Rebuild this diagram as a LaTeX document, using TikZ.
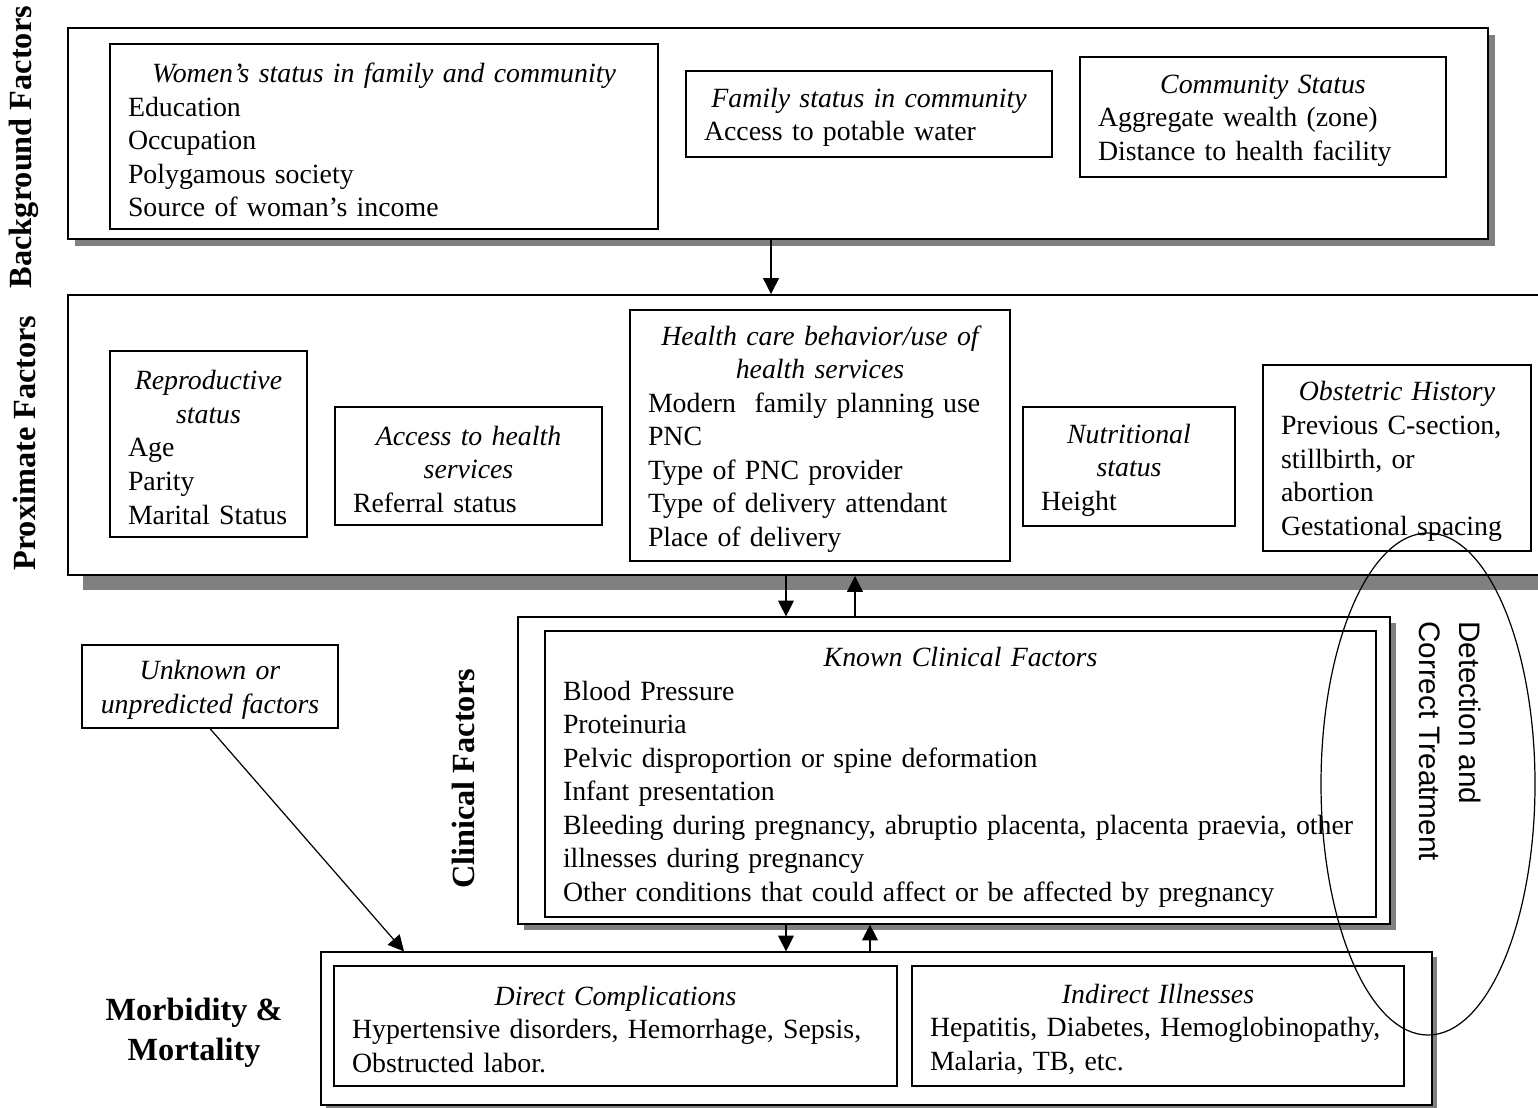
\documentclass[tikz,border=0pt]{standalone}
\usepackage{fontspec}
\setmainfont{Liberation Serif}
\newfontfamily\noteface{Liberation Sans}
\usetikzlibrary{arrows.meta,shadows}
\newcommand{\pxu}{0.4115pt}
\newcommand{\ttl}[1]{\centerline{\itshape #1}}
\newcommand{\itm}[1]{\hbox{#1}}
\newcommand{\boxlines}[1]{\vbox{\vskip 2.8pt #1}}

\begin{document}
\begin{tikzpicture}[x=\pxu, y=-\pxu, font=\fontsize{11.45}{13.8}\selectfont]
    \useasboundingbox (0,0) rectangle (1538,1107);
    \clip (0,0) rectangle (1538,1107);

    \tikzset{FrameStyle/.style 2 args={draw, fill=white, minimum width=#1*\pxu, minimum height=#2*\pxu, inner sep=0pt}}
    \tikzset{ShadowStyle/.style={drop shadow={shadow xshift=#1, shadow yshift=-#1, fill=gray, opacity=1}}}
    \node[FrameStyle={1420}{211}, line width=0.8pt, ShadowStyle=2.9pt] (background) at (778,133.5) {};
    \node[FrameStyle={1492}{280}, line width=0.8pt, ShadowStyle=6pt]   (proximate)  at (814,435)   {};
    \node[FrameStyle={872}{307},  line width=0.5pt, ShadowStyle=2.5pt] (clinframe)  at (954,770.5) {};
    \node[FrameStyle={1111}{153}, line width=0.5pt, ShadowStyle=2pt]   (morbframe)  at (876.5,1028.5) {};

    \tikzset{BoxStyle/.style 2 args={draw, line width=0.5pt, minimum width=#1*\pxu, minimum height=#2*\pxu, text width=#1*\pxu-36*\pxu, inner xsep=18*\pxu, inner ysep=0pt, align=left}}
    \node[BoxStyle={548}{185}] (women) at (384,136.5)
        {\boxlines{\ttl{Women’s status in family and community}\itm{Education}\itm{Occupation}\itm{Polygamous society}\itm{Source of woman’s income}}};
    \node[BoxStyle={366}{86}] (family) at (869,114)
        {\boxlines{\ttl{Family status in community}\itm{Access to potable water}}};
    \node[BoxStyle={366}{120}] (community) at (1263,117)
        {\boxlines{\ttl{Community Status}\itm{Aggregate wealth (zone)}\itm{Distance to health facility}}};

    \node[BoxStyle={197}{186}] (repro) at (208.5,444)
        {\boxlines{\ttl{Reproductive}\ttl{status}\itm{Age}\itm{Parity}\itm{Marital Status}}};
    \node[BoxStyle={267}{118}] (access) at (468.5,466)
        {\boxlines{\ttl{Access to health}\ttl{services}\itm{Referral status}}};
    \node[BoxStyle={380}{251}] (health) at (820,435.5)
        {\boxlines{\ttl{Health care behavior/use of}\ttl{health services}\itm{Modern\ \ family planning use}\itm{PNC}\itm{Type of PNC provider}\itm{Type of delivery attendant}\itm{Place of delivery}}};
    \node[BoxStyle={212}{119}] (nutrition) at (1129,466.5)
        {\boxlines{\ttl{Nutritional}\ttl{status}\itm{Height}}};
    \node[BoxStyle={268}{186}] (obstetric) at (1397,458)
        {\boxlines{\ttl{Obstetric History}\itm{Previous C-section,}\itm{stillbirth, or}\itm{abortion}\itm{Gestational spacing}}};

    \node[BoxStyle={256}{83}] (unknown) at (210,686.5)
        {\boxlines{\ttl{Unknown or}\ttl{unpredicted factors}}};
    \node[BoxStyle={831}{286}] (known) at (960.5,774)
        {\boxlines{\ttl{Known Clinical Factors}\itm{Blood Pressure}\itm{Proteinuria}\itm{Pelvic disproportion or spine deformation}\itm{Infant presentation}\itm{Bleeding during pregnancy, abruptio placenta, placenta praevia, other}\itm{illnesses during pregnancy}\itm{Other conditions that could affect or be affected by pregnancy}}};

    \node[BoxStyle={563}{120}] (direct) at (615.5,1026)
        {\boxlines{\ttl{Direct Complications}\itm{Hypertensive disorders, Hemorrhage, Sepsis,}\itm{Obstructed labor.}}};
    \node[BoxStyle={492}{120}] (indirect) at (1158,1026)
        {\boxlines{\ttl{Indirect Illnesses}\itm{Hepatitis, Diabetes, Hemoglobinopathy,}\itm{Malaria, TB, etc.}}};

    \tikzset{SideStyle/.style={font=\fontsize{13.3}{16.5}\selectfont\bfseries}}
    \node[SideStyle, rotate=90] (bglabel)     at (24,147)  {Background Factors};
    \node[SideStyle, rotate=90] (proxlabel)   at (24,443)  {Proximate Factors};
    \node[SideStyle, rotate=90] (cliniclabel) at (463,779) {Clinical Factors};
    \node[SideStyle, align=center] (morblabel) at (194,1033) {Morbidity \&\\Mortality};

    \node[rotate=-90, align=left, font=\noteface\fontsize{12.2}{16.8}\selectfont] (detection) at (1450,741)
        {Detection and\\Correct Treatment};
    \draw[line width=0.5pt] (1428,784) ellipse [x radius=107, y radius=251];

    \tikzset{LinkStyle/.style={->, >={Triangle[length=6.5pt, width=6.5pt]}, line width=0.5pt}}
    \draw[LinkStyle] (background.south -| 771,0) -- (proximate.north -| 771,0);
    \draw[LinkStyle] (proximate.south -| 786,0) -- (clinframe.north -| 786,0);
    \draw[LinkStyle] (clinframe.north -| 855,0) -- (proximate.south -| 855,0);
    \draw[LinkStyle] (clinframe.south -| 786,0) -- (morbframe.north -| 786,0);
    \draw[LinkStyle] (morbframe.north -| 870,0) -- (clinframe.south -| 870,0);
    \draw[LinkStyle] (unknown.south) -- (morbframe.north -| 404,0);
\end{tikzpicture}
\end{document}
